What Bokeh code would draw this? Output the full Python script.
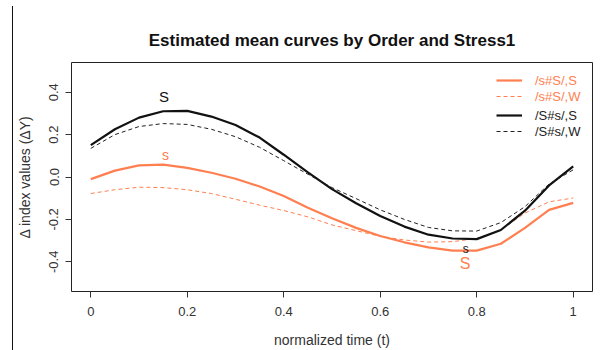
from bokeh.plotting import figure
from bokeh.models import Range1d, FixedTicker, Legend, LegendItem, LinearAxis, Div
from bokeh.layouts import row
from bokeh.embed import file_html
from bokeh.resources import INLINE
from bokeh.core.properties import value

# ---- data ----
t = [0.0, 0.05, 0.1, 0.15, 0.2, 0.25, 0.3, 0.35, 0.4, 0.45, 0.5,
     0.55, 0.6, 0.65, 0.7, 0.75, 0.8, 0.85, 0.9, 0.95, 1.0]
sS_S = [-0.010, 0.030, 0.055, 0.058, 0.043, 0.020, -0.008, -0.045, -0.090, -0.145, -0.195,
        -0.240, -0.278, -0.308, -0.332, -0.347, -0.347, -0.315, -0.240, -0.155, -0.122]
sS_W = [-0.078, -0.060, -0.048, -0.050, -0.060, -0.078, -0.105, -0.133, -0.158, -0.188, -0.226,
        -0.253, -0.280, -0.297, -0.307, -0.305, -0.290, -0.250, -0.170, -0.117, -0.099]
Ss_S = [0.150, 0.225, 0.280, 0.310, 0.312, 0.285, 0.245, 0.186, 0.105, 0.022, -0.057,
        -0.124, -0.184, -0.234, -0.272, -0.290, -0.293, -0.250, -0.159, -0.040, 0.050]
Ss_W = [0.135, 0.200, 0.238, 0.252, 0.248, 0.225, 0.190, 0.140, 0.077, 0.013, -0.050,
        -0.102, -0.155, -0.200, -0.238, -0.254, -0.255, -0.215, -0.140, -0.033, 0.034]
series_names = ["/s#S/,S", "/s#S/,W", "/S#s/,S", "/S#s/,W"]

x_ticks = [0, 0.2, 0.4, 0.6, 0.8, 1.0]
x_tick_labels = ["0", "0.2", "0.4", "0.6", "0.8", "1"]
y_ticks = [-0.4, -0.2, 0.0, 0.2, 0.4]
y_tick_labels = ["-0.4", "-0.2", "0.0", "0.2", "0.4"]

big_S_x = [0.152, 0.776]
big_S_y = [0.381, -0.410]
small_s_x = [0.155, 0.777]
small_s_y = [0.106, -0.340]

ORANGE = "#FF7F50"
BLACK = "#111111"
FRAME = "#222222"
TEXT = "#333333"
FONT = "Liberation Sans"

p = figure(width=589, height=350, output_backend="svg", toolbar_location=None,
           x_range=Range1d(-0.04, 1.04), y_range=Range1d(-0.54, 0.54),
           min_border_left=56, min_border_right=10, min_border_top=62, min_border_bottom=57,
           title="Estimated mean curves by Order and Stress1")
p.background_fill_color = "white"
p.border_fill_color = "white"
p.outline_line_color = None
p.grid.visible = False

p.title.text_font = FONT
p.title.text_font_size = "17px"
p.title.text_font_style = "bold"
p.title.text_color = "#111111"
p.title.align = "center"
p.title.standoff = 25

p.xaxis.ticker = FixedTicker(ticks=x_ticks)
p.xaxis.major_label_overrides = dict(zip(x_ticks, x_tick_labels))
p.yaxis.ticker = FixedTicker(ticks=y_ticks)
p.yaxis.major_label_overrides = dict(zip(y_ticks, y_tick_labels))
p.yaxis.major_label_orientation = "vertical"
p.xaxis.axis_label = "normalized time (t)"
p.yaxis.axis_label = "\u0394 index values (\u0394Y)"
for ax in (p.xaxis, p.yaxis):
    ax.axis_line_color = FRAME
    ax.major_tick_line_color = "#333333"
    ax.major_tick_out = 6
    ax.major_tick_in = 0
    ax.minor_tick_line_color = None
    ax.major_label_text_font = FONT
    ax.major_label_text_font_size = "13px"
    ax.major_label_text_color = TEXT
    ax.axis_label_text_font = FONT
    ax.axis_label_text_font_size = "14px"
    ax.axis_label_text_font_style = "normal"
    ax.axis_label_text_color = TEXT
p.xaxis.major_label_standoff = 9
p.xaxis.axis_label_standoff = 13
p.yaxis.major_label_standoff = 7
p.yaxis.axis_label_standoff = 14

# close the box on top and right
for side in ("right", "above"):
    bx = LinearAxis(ticker=FixedTicker(ticks=[]), axis_line_color=FRAME,
                    major_tick_out=0, major_tick_in=0, minor_tick_out=0, minor_tick_in=0,
                    major_tick_line_color=None, minor_tick_line_color=None)
    p.add_layout(bx, side)

r1 = p.line(t, sS_S, line_color=ORANGE, line_width=2.2)
r2 = p.line(t, sS_W, line_color=ORANGE, line_width=1, line_dash="4 3")
r3 = p.line(t, Ss_S, line_color=BLACK, line_width=2.2)
r4 = p.line(t, Ss_W, line_color="#222222", line_width=1, line_dash="4 3")

p.text(x=[big_S_x[0]], y=[big_S_y[0]], text=["S"], text_color=BLACK,
       text_font=value(FONT), text_font_size="15px", text_align="center", text_baseline="middle")
p.text(x=[big_S_x[1]], y=[big_S_y[1]], text=["S"], text_color=ORANGE,
       text_font=value(FONT), text_font_size="16px", text_align="center", text_baseline="middle")
p.text(x=[small_s_x[0]], y=[small_s_y[0]], text=["s"], text_color=ORANGE,
       text_font=value(FONT), text_font_size="14px", text_align="center", text_baseline="middle")
p.text(x=[small_s_x[1]], y=[small_s_y[1]], text=["s"], text_color=BLACK,
       text_font=value(FONT), text_font_size="12px", text_align="center", text_baseline="middle")

def make_legend(items, color, vy):
    return Legend(items=items, location=(425, vy), orientation="vertical",
                  padding=0, margin=0, spacing=0, label_height=16, glyph_height=16,
                  glyph_width=26, label_standoff=13,
                  label_text_font=FONT, label_text_font_size="13px", label_text_color=color,
                  border_line_alpha=0, background_fill_alpha=0)

leg1 = make_legend([LegendItem(label=series_names[0], renderers=[r1]),
                    LegendItem(label=series_names[1], renderers=[r2])], ORANGE, 187)
leg2 = make_legend([LegendItem(label=series_names[2], renderers=[r3]),
                    LegendItem(label=series_names[3], renderers=[r4])], "#222222", 152)
p.add_layout(leg1)
p.add_layout(leg2)

# thin vertical rule at the left edge of the image
rule = Div(text="", width=13, height=344, margin=(6, 0, 0, 0),
           styles={"border-right": "1px solid #111111"})

layout = row(rule, p, spacing=0)
open("out.html", "w").write(file_html(layout, INLINE))
